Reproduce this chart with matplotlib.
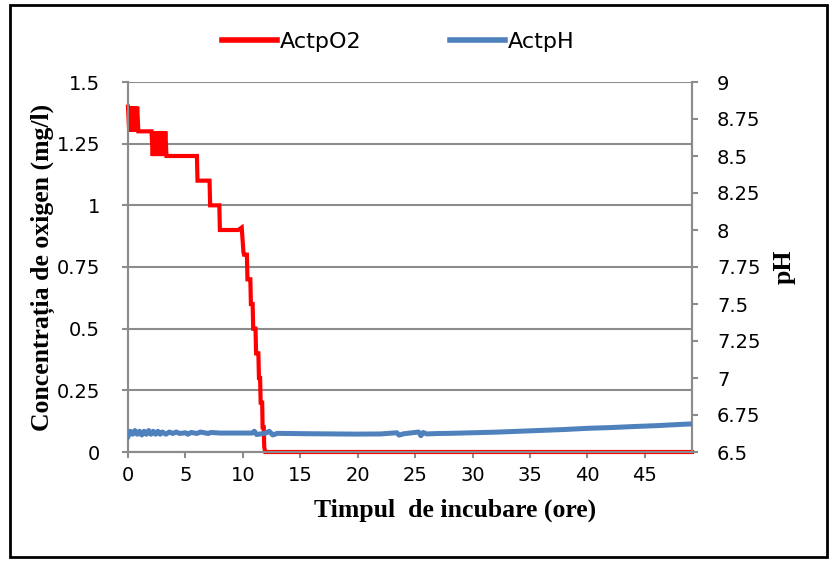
import matplotlib.pyplot as plt
import numpy as np
from matplotlib.patches import Rectangle
from matplotlib.lines import Line2D

# oxigen dizolvat (mg/l) - citiri in trepte
timp_o2 = [0.0, 0.1, 0.2, 0.3, 0.4, 0.5, 0.6, 0.7, 0.8, 0.9,
           2.05, 2.15, 2.25, 2.35, 2.45, 2.55, 2.65, 2.75, 2.85, 2.95, 3.05, 3.15, 3.25, 3.35, 3.4,
           6.0, 6.05, 7.1, 7.15, 7.95, 8.0, 9.6, 9.9, 10.05, 10.1, 10.35, 10.4,
           10.65, 10.7, 10.85, 10.9, 11.1, 11.15, 11.35, 11.4, 11.5, 11.55, 11.68, 11.72,
           11.82, 11.86, 11.95, 49.1]
o2 = [1.4, 1.3, 1.4, 1.3, 1.4, 1.3, 1.4, 1.3, 1.4, 1.3,
      1.3, 1.2, 1.3, 1.2, 1.3, 1.2, 1.3, 1.2, 1.3, 1.2, 1.3, 1.2, 1.3, 1.2, 1.2,
      1.2, 1.1, 1.1, 1.0, 1.0, 0.9, 0.9, 0.91, 0.81, 0.8, 0.8, 0.7,
      0.7, 0.6, 0.6, 0.5, 0.5, 0.4, 0.4, 0.3, 0.3, 0.2, 0.2, 0.1,
      0.1, 0.02, 0.0, 0.0]

# pH
timp_ph = [0.0, 0.2, 0.4, 0.6, 0.8, 1.0, 1.2, 1.4, 1.6, 1.8,
           2.0, 2.2, 2.4, 2.6, 2.8, 3.0, 3.3, 3.6, 3.9, 4.2,
           4.5, 5.0, 5.2, 5.5, 6.0, 6.3, 7.0, 7.2, 8.0, 9.0,
           10.0, 10.8, 11.0, 11.2, 12.0, 12.3, 12.6, 13.0, 15.0, 18.0,
           20.0, 22.0, 23.4, 23.6, 24.0, 25.3, 25.5, 25.7, 26.0, 27.0,
           28.0, 29.0, 30.0, 32.0, 34.0, 36.0, 38.0, 40.0, 42.0, 44.0,
           46.0, 48.0, 49.1]
ph = [6.605, 6.64, 6.62, 6.645, 6.62, 6.64, 6.615, 6.64, 6.62, 6.645,
      6.62, 6.64, 6.62, 6.64, 6.62, 6.635, 6.62, 6.635, 6.625, 6.635,
      6.625, 6.63, 6.62, 6.632, 6.625, 6.635, 6.625, 6.632, 6.628, 6.628,
      6.628, 6.628, 6.64, 6.618, 6.628, 6.64, 6.615, 6.626, 6.624, 6.622,
      6.621, 6.622, 6.63, 6.614, 6.623, 6.635, 6.61, 6.632, 6.622, 6.625,
      6.626, 6.628, 6.63, 6.634, 6.64, 6.646, 6.652, 6.66, 6.665, 6.672,
      6.678, 6.686, 6.69]

gri = '#8c8c8c'

fig = plt.figure(figsize=(8.36, 5.62), dpi=100)
ax = fig.add_axes([128 / 836, 110 / 562, 564 / 836, 370 / 562])
ax2 = ax.twinx()

ax.plot(timp_o2, o2, color='#ff0000', linewidth=3, clip_on=False, zorder=3, solid_joinstyle='miter')
ax2.plot(timp_ph, ph, color='#4f81bd', linewidth=3.6, zorder=3)

ax.set_xlim(0, 49.1)
ax.set_ylim(0, 1.5)
ax2.set_ylim(6.5, 9)
ax.set_xticks(np.arange(0, 50, 5))
ax.set_yticks([0, 0.25, 0.5, 0.75, 1, 1.25, 1.5])
ax.set_yticklabels(['0', '0.25', '0.5', '0.75', '1', '1.25', '1.5'])
ax2.set_yticks([6.5, 6.75, 7, 7.25, 7.5, 7.75, 8, 8.25, 8.5, 8.75, 9])
ax2.set_yticklabels(['6.5', '6.75', '7', '7.25', '7.5', '7.75', '8', '8.25', '8.5', '8.75', '9'])

ax.grid(axis='y', color=gri, linewidth=1.5)
ax.set_axisbelow(True)
for a in (ax, ax2):
    a.spines['top'].set_visible(False)
    for s in ('left', 'right', 'bottom'):
        a.spines[s].set_color(gri)
        a.spines[s].set_linewidth(1.5)
    a.tick_params(colors=gri, labelcolor='black', labelsize=14, width=1.5, length=4)
ax.tick_params(axis='x', pad=6)
ax.tick_params(axis='y', pad=16)
ax2.tick_params(axis='y', pad=14)

ax.set_xlabel('Timpul  de incubare (ore)', family='Liberation Serif', fontweight='bold', fontsize=18.5)
ax.xaxis.set_label_coords((455 - 128) / 564, -0.125)
ax.set_ylabel('Concentrația de oxigen (mg/l)', family='Liberation Serif', fontweight='bold', fontsize=18.5, labelpad=1)
ax2.set_ylabel('pH', family='Liberation Serif', fontweight='bold', fontsize=18.5, labelpad=9)

handles = [Line2D([], [], color='#ff0000', linewidth=4), Line2D([], [], color='#4f81bd', linewidth=4)]
fig.legend(handles, ['ActpO2', 'ActpH'], loc='center', bbox_to_anchor=(398 / 836, 1 - 42 / 562),
           ncol=2, frameon=False, fontsize=16, handlelength=2.5, columnspacing=4, handletextpad=0.1)

fig.patches.append(Rectangle((10 / 836, 5 / 562), 817 / 836, 552 / 562, transform=fig.transFigure,
                             fill=False, edgecolor='black', linewidth=2))

fig.savefig('out.png', dpi=100)
